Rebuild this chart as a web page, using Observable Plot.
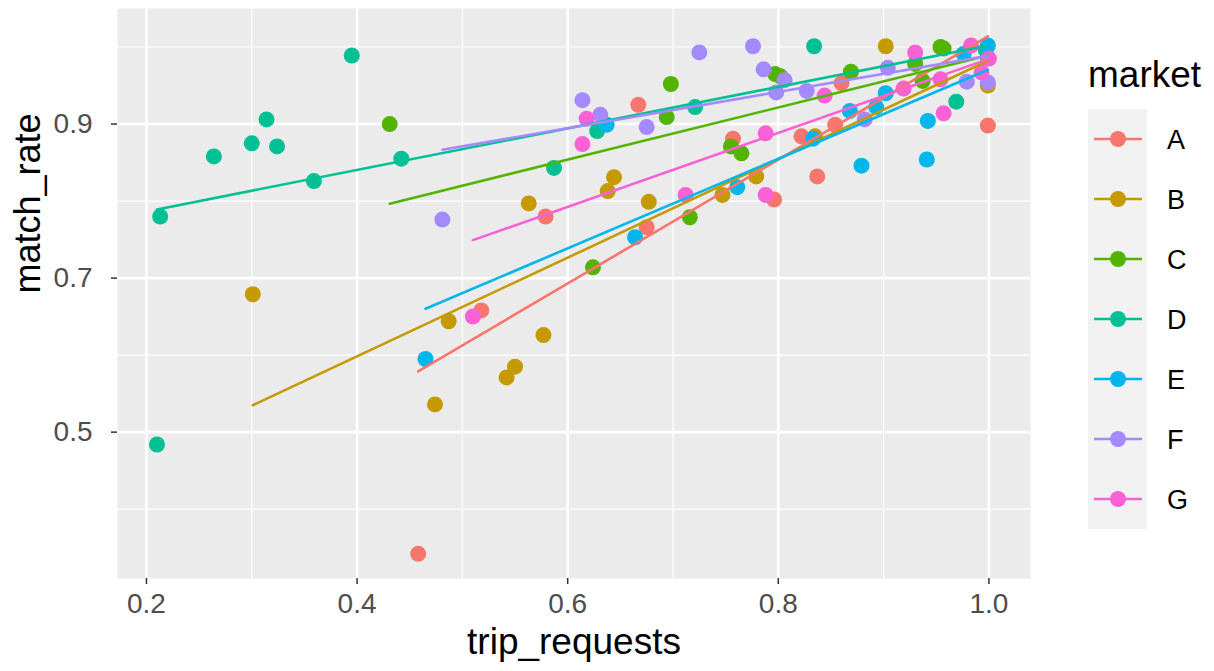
<!DOCTYPE html>
<html><head><meta charset="utf-8">
<script src="https://cdn.jsdelivr.net/npm/d3@7"></script>
<script src="https://cdn.jsdelivr.net/npm/@observablehq/plot@0.6"></script>
<style>
body{margin:0;background:#fff;font-family:"Liberation Sans",Arial,sans-serif;}
#wrap{position:relative;width:1214px;height:671px;overflow:hidden;}
#legend{position:absolute;left:1040px;top:0;}
</style></head><body><div id="wrap"></div>
<script>
const markets = ["A","B","C","D","E","F","G"];
const colors = ["#F8766D","#C49A00","#53B400","#00C094","#00B6EB","#A58AFF","#FB61D7"];
const xTicks = [0.2,0.4,0.6,0.8,1.0];
const yTicks = [0.5,0.7,0.9];
const xMinor = [0.3,0.5,0.7,0.9];
const yMinor = [0.4,0.6,0.8,1.0];

const tripA = [0.458,0.518,0.579,0.675,0.667,0.757,0.796,0.822,0.837,0.854,0.860,0.999];
const matchA = [0.342,0.658,0.780,0.766,0.925,0.881,0.802,0.884,0.832,0.899,0.953,0.898];
const tripB = [0.301,0.474,0.487,0.542,0.550,0.577,0.563,0.638,0.644,0.677,0.747,0.779,0.835,0.902,0.999];
const matchB = [0.679,0.536,0.644,0.571,0.585,0.626,0.797,0.813,0.831,0.799,0.808,0.832,0.884,1.001,0.950];
const tripC = [0.431,0.624,0.694,0.698,0.716,0.755,0.765,0.797,0.802,0.869,0.930,0.937,0.954,0.957,0.999];
const matchC = [0.900,0.714,0.909,0.952,0.779,0.871,0.862,0.965,0.962,0.968,0.978,0.956,1.000,0.998,0.985];
const tripD = [0.210,0.213,0.264,0.300,0.314,0.324,0.359,0.395,0.442,0.587,0.628,0.721,0.834,0.969,0.997];
const matchD = [0.484,0.780,0.858,0.875,0.906,0.871,0.826,0.989,0.855,0.843,0.891,0.922,1.001,0.929,0.996];
const tripE = [0.465,0.637,0.664,0.761,0.833,0.868,0.879,0.893,0.902,0.941,0.942,0.976,0.999];
const matchE = [0.595,0.899,0.753,0.818,0.881,0.917,0.846,0.922,0.940,0.854,0.904,0.991,1.002];
const tripF = [0.481,0.614,0.631,0.675,0.725,0.776,0.786,0.806,0.798,0.827,0.882,0.904,0.979,0.999];
const matchF = [0.776,0.931,0.912,0.896,0.993,1.001,0.971,0.957,0.941,0.943,0.906,0.973,0.955,0.954];
const tripG = [0.510,0.614,0.618,0.712,0.788,0.788,0.844,0.919,0.930,0.954,0.957,0.983,0.993,1.000];
const matchG = [0.650,0.874,0.907,0.808,0.888,0.808,0.937,0.946,0.993,0.958,0.914,1.002,0.967,0.985];

const trips = [tripA,tripB,tripC,tripD,tripE,tripF,tripG];
const matches = [matchA,matchB,matchC,matchD,matchE,matchF,matchG];
const rows = [];
markets.forEach((m,i)=>trips[i].forEach((t,j)=>rows.push({market:m,trip_requests:t,match_rate:matches[i][j]})));

const font = "Liberation Sans, Arial, sans-serif";
const plot = Plot.plot({
  width:1214, height:671,
  marginLeft:117, marginRight:184, marginTop:8, marginBottom:93,
  x:{domain:[0.1725,1.0395]},
  y:{domain:[0.31,1.05]},
  color:{domain:markets, range:colors},
  style:{fontFamily:font, background:"white"},
  marks:[
    Plot.frame({fill:"#EBEBEB", stroke:null}),
    Plot.ruleX(xMinor,{stroke:"white",strokeWidth:1.2}),
    Plot.ruleY(yMinor,{stroke:"white",strokeWidth:1.2}),
    Plot.ruleX(xTicks,{stroke:"white",strokeWidth:2.6}),
    Plot.ruleY(yTicks,{stroke:"white",strokeWidth:2.6}),
    Plot.dot(rows,{x:"trip_requests",y:"match_rate",fill:"market",r:8}),
    Plot.linearRegressionY(rows,{x:"trip_requests",y:"match_rate",stroke:"market",ci:0,strokeWidth:2.6}),
    Plot.axisX({ticks:xTicks, tickFormat:d3.format(".1f"), tickSize:6, tickPadding:9, fontSize:28, fill:"#4D4D4D", stroke:"#333333", strokeWidth:1.5, label:null}),
    Plot.axisY({ticks:yTicks, tickFormat:d3.format(".1f"), tickSize:6, tickPadding:19, fontSize:28, fill:"#4D4D4D", stroke:"#333333", strokeWidth:1.5, label:null}),
    Plot.text(["trip_requests"],{frameAnchor:"bottom", dy:75, fontSize:37, fill:"black"}),
    Plot.text(["match_rate"],{frameAnchor:"left", dx:-89, rotate:-90, fontSize:36, fill:"black"})
  ]
});
const wrap = document.getElementById("wrap");
wrap.appendChild(plot);

// legend
const lg = d3.select(wrap).append("svg").attr("id","legend").attr("width",174).attr("height",671)
  .style("font-family",font);
lg.append("text").attr("x",48).attr("y",87).attr("font-size",37).attr("fill","black").text("market");
lg.append("rect").attr("x",48).attr("y",109).attr("width",59).attr("height",420).attr("fill","#F2F2F2");
const keys = lg.selectAll("g.k").data(markets).join("g").attr("class","k")
  .attr("transform",(d,i)=>`translate(0,${139+i*60})`);
keys.append("line").attr("x1",54).attr("x2",102).attr("y1",0).attr("y2",0)
  .attr("stroke",(d,i)=>colors[i]).attr("stroke-width",2.6);
keys.append("circle").attr("cx",78).attr("cy",0).attr("r",8).attr("fill",(d,i)=>colors[i]);
keys.append("text").attr("x",127).attr("y",0).attr("dy","0.36em").attr("font-size",27).attr("fill","black").text(d=>d);
</script></body></html>
